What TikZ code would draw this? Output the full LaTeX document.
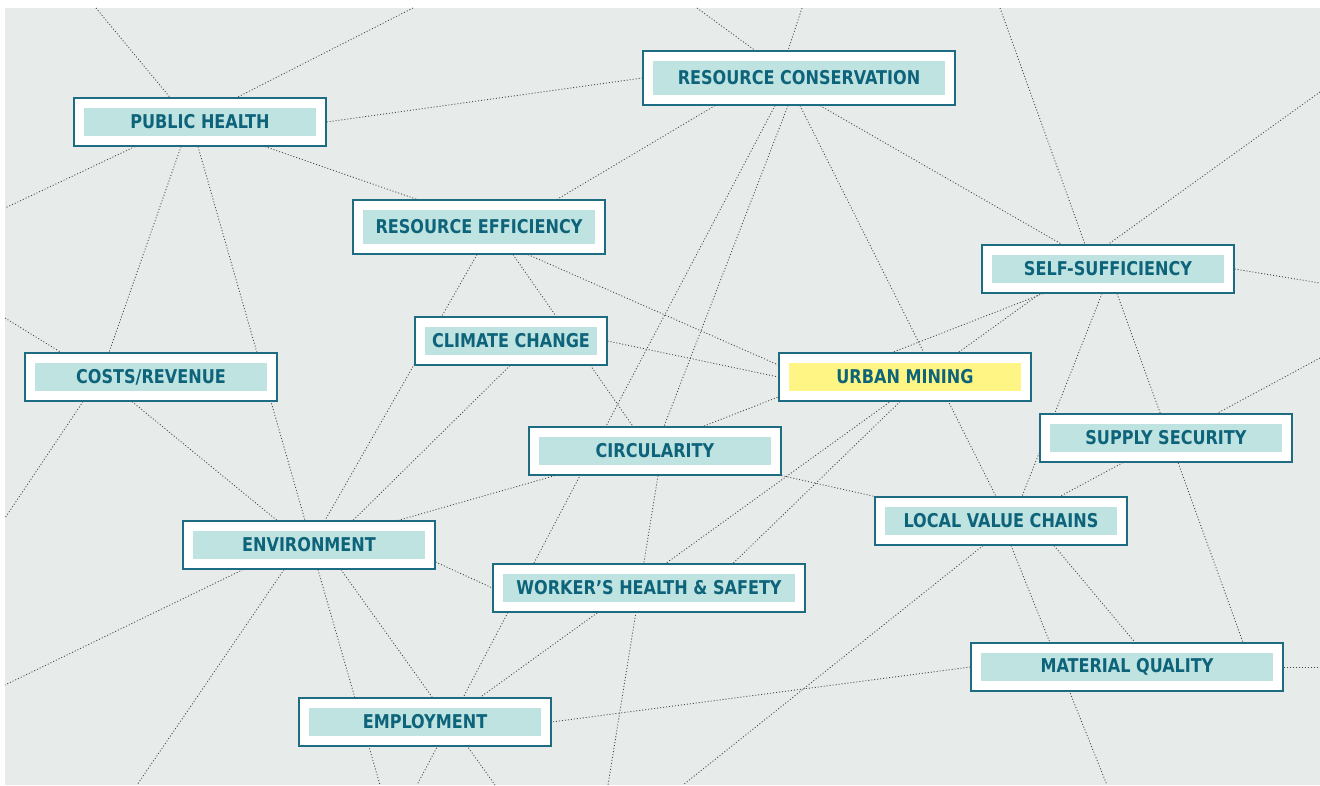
\documentclass[tikz,border=0pt]{standalone}
\usepackage{fontspec}
\newfontfamily\labelfont{DejaVu Sans Condensed}[FakeStretch=0.94]
\usetikzlibrary{calc,backgrounds}
\definecolor{bggray}{HTML}{E7EBEA}
\definecolor{boxline}{HTML}{1E6C82}
\definecolor{labeltext}{HTML}{0D637A}
\definecolor{tealpale}{HTML}{BFE3E0}
\definecolor{minepale}{HTML}{FFF584}
\tikzset{
	topic/.style={draw=boxline, line width=1.2pt, fill=white, minimum width=252pt, minimum height=48pt, inner sep=0pt,
		text=labeltext, font={\labelfont\bfseries\fontsize{19}{19}\selectfont},
		path picture={\fill[#1] ([shift={(10pt,10pt)}]path picture bounding box.south west) rectangle ([shift={(-10pt,-10pt)}]path picture bounding box.north east);}},
	topic/.default=tealpale,
	link/.style={line width=0.85pt, draw=black!72, dash pattern=on 1pt off 2pt}
}

\begin{document}
\begin{tikzpicture}[x=1pt,y=-1pt]
	%%%%% START %%%%%
	\useasboundingbox (0,0) rectangle (1320,785);
	
	\node[topic] (ph) at (200,122) {PUBLIC HEALTH};
	\node[topic, minimum width=312pt, minimum height=54pt] (rc) at (799,78) {RESOURCE CONSERVATION};
	\node[topic, minimum height=54pt] (re) at (479,227) {RESOURCE EFFICIENCY};
	\node[topic, minimum width=192pt] (cc) at (511,341) {CLIMATE CHANGE};
	\node[topic] (cr) at (151,377) {COSTS/REVENUE};
	\node[topic=minepale] (um) at (905,377) {URBAN MINING};
	\node[topic] (ss) at (1108,269) {SELF-SUFFICIENCY};
	\node[topic] (sup) at (1166,438) {SUPPLY SECURITY};
	\node[topic] (circ) at (655,451) {CIRCULARITY};
	\node[topic] (lvc) at (1001,521) {LOCAL VALUE CHAINS};
	\node[topic] (env) at (309,545) {ENVIRONMENT};
	\node[topic, minimum width=312pt] (whs) at (649,588) {WORKER’S HEALTH \& SAFETY};
	\node[topic] (emp) at (425,722) {EMPLOYMENT};
	\node[topic, minimum width=312pt] (mq) at (1127,667) {MATERIAL QUALITY};
	
	% loose ends at the border
	\coordinate (top1) at (96,8);
	\coordinate (top2) at (413,8);
	\coordinate (top3) at (697,8);
	\coordinate (top4) at (802,8);
	\coordinate (top5) at (1000,8);
	\coordinate (left1) at (5,208);
	\coordinate (left2) at (5,318);
	\coordinate (left3) at (5,518);
	\coordinate (left4) at (5,685);
	\coordinate (right1) at (1320,92);
	\coordinate (right2) at (1320,283);
	\coordinate (right3) at (1320,358);
	\coordinate (right4) at (1320,667);
	\coordinate (bot1) at (137,785);
	\coordinate (bot2) at (380,785);
	\coordinate (bot3) at (417,785);
	\coordinate (bot4) at (495,785);
	\coordinate (bot5) at (608,785);
	\coordinate (bot6) at (683,785);
	\coordinate (bot7) at (1107,785);
	
	\begin{scope}[on background layer]
		\fill[bggray] (5,8) rectangle (1320,785);
		
		% public health
		\draw[link] (top1) -- ($(ph.north)+(-30,0)$);
		\draw[link] (top2) -- ($(ph.north)+(37,0)$);
		\draw[link] (ph.east) -- (rc.west);
		\draw[link] ($(ph.south)+(-65,0)$) -- (left1);
		\draw[link] ($(ph.south)+(-19,0)$) -- ($(cr.north)+(-42,0)$);
		\draw[link] ($(ph.south)+(-2,0)$) -- ($(env.north)+(-4,0)$);
		\draw[link] ($(ph.south)+(65,0)$) -- ($(re.north)+(-62,0)$);
		
		% costs and environment
		\draw[link] (left2) -- ($(cr.north)+(-90,0)$);
		\draw[link] ($(cr.south)+(-68,0)$) -- (left3);
		\draw[link] ($(cr.south)+(-19,0)$) -- ($(env.north)+(-32,0)$);
		\draw[link] ($(env.south)+(-66,0)$) -- (left4);
		\draw[link] ($(env.south)+(-25,0)$) -- (bot1);
		\draw[link] ($(env.south)+(9,0)$) -- (bot2);
		\draw[link] ($(env.south)+(32,0)$) -- (bot4);
		\draw[link] ($(env.east)+(0,17)$) -- (whs.west);
		\draw[link] ($(env.north)+(89,0)$) -- ($(circ.south)+(-100,0)$);
		
		% efficiency and climate
		\draw[link] ($(re.south)+(-2,0)$) -- ($(env.north)+(16,0)$);
		\draw[link] ($(cc.south)+(-1,0)$) -- ($(env.north)+(44,0)$);
		\draw[link] ($(re.south)+(34,0)$) -- ($(circ.north)+(-22,0)$);
		\draw[link] ($(re.south)+(49,0)$) -- ($(um.west)+(0,-12)$);
		\draw[link] (cc.east) -- (um.west);
		
		% resource conservation
		\draw[link] (top3) -- ($(rc.north)+(-44,0)$);
		\draw[link] (top4) -- ($(rc.north)+(-11,0)$);
		\draw[link] ($(rc.south)+(-84,0)$) -- ($(re.north)+(78,0)$);
		\draw[link] ($(rc.south)+(-24,0)$) -- (bot3);
		\draw[link] ($(rc.south)+(-11,0)$) -- ($(circ.north)+(9,0)$);
		\draw[link] ($(rc.south)+(1,0)$) -- ($(lvc.north)+(-5,0)$);
		\draw[link] ($(rc.south)+(21,0)$) -- ($(ss.north)+(-46,0)$);
		
		% self-sufficiency
		\draw[link] (top5) -- ($(ss.north)+(-23,0)$);
		\draw[link] (right1) -- (ss.north);
		\draw[link] (ss.east) -- (right2);
		\draw[link] ($(ss.south)+(-65,0)$) -- ($(circ.north)+(48,0)$);
		\draw[link] ($(ss.south)+(-68,0)$) -- ($(emp.north)+(55,0)$);
		\draw[link] ($(ss.south)+(-6,0)$) -- ($(lvc.north)+(21,0)$);
		\draw[link] ($(ss.south)+(9,0)$) -- ($(mq.north)+(116,0)$);
		
		% urban mining, supply, value chains
		\draw[link] ($(um.south)+(-5,0)$) -- ($(whs.north)+(84,0)$);
		\draw[link] (right3) -- ($(sup.north)+(51,0)$);
		\draw[link] ($(sup.south)+(-43,0)$) -- ($(lvc.north)+(59,0)$);
		\draw[link] (circ.south east) -- (lvc.north west);
		\draw[link] ($(circ.south)+(3,0)$) -- (bot5);
		\draw[link] ($(lvc.south)+(-18,0)$) -- (bot6);
		\draw[link] ($(lvc.south)+(10,0)$) -- (bot7);
		\draw[link] ($(lvc.south)+(53,0)$) -- ($(mq.north)+(8,0)$);
		
		% material quality
		\draw[link] (mq.west) -- (emp.east);
		\draw[link] (mq.east) -- (right4);
	\end{scope}
	
	%%%%% END %%%%%
\end{tikzpicture}
\end{document}
